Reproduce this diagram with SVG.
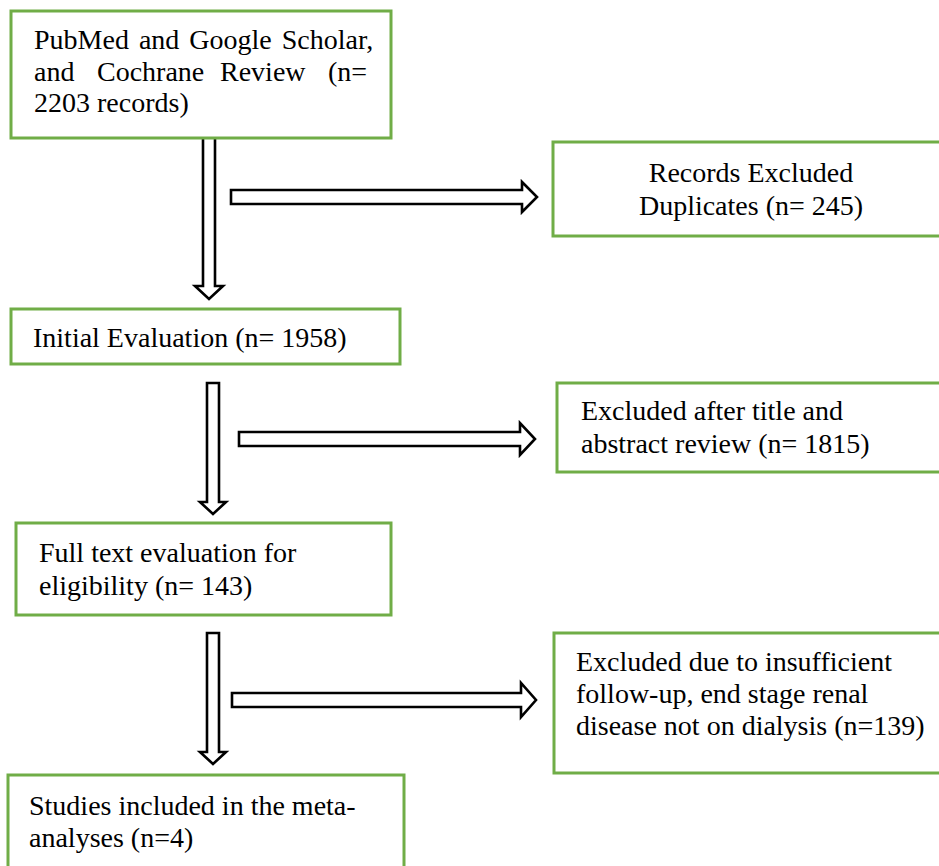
<svg xmlns="http://www.w3.org/2000/svg" width="939" height="866" viewBox="0 0 939 866">
<style>
.box{fill:#fff;stroke:#70AD47;stroke-width:3}
.t{font-family:"Liberation Serif","Times New Roman",serif;font-size:28px;fill:#000}
.arr{fill:#fff;stroke:#000;stroke-width:2.6;stroke-linejoin:miter}
</style>
<rect width="939" height="866" fill="#fff"/>
<g id="connectors">
<polygon class="arr" points="203,137 215,137 215,286 223,286 209,299 195,286 203,286"/>
<polygon class="arr" points="231,190 522,190 522,182 537,197 522,212 522,204 231,204"/>
<polygon class="arr" points="207,383 219,383 219,502 226,502 213,514 200,502 207,502"/>
<polygon class="arr" points="239,432 520,432 520,423 535,439 520,455 520,446 239,446"/>
<polygon class="arr" points="207,633 219,633 219,752 226,752 213,764 200,752 207,752"/>
<polygon class="arr" points="232,693 521,693 521,683 536,700 521,717 521,707 232,707"/>
</g>
<g id="n1">
<rect class="box" x="11" y="11" width="380" height="127"/>
<text class="t" x="34" y="49" word-spacing="3">PubMed and Google Scholar,</text>
<text class="t" y="81"><tspan x="34">and</tspan><tspan x="97">Cochrane</tspan><tspan x="220">Review</tspan><tspan x="328">(n=</tspan></text>
<text class="t" x="34" y="112">2203 records)</text>
</g>
<g id="n2">
<rect class="box" x="553" y="142" width="400" height="94"/>
<text class="t" x="751" y="182" text-anchor="middle">Records Excluded</text>
<text class="t" x="751" y="215" text-anchor="middle">Duplicates (n= 245)</text>
</g>
<g id="n3">
<rect class="box" x="11" y="309" width="389" height="55"/>
<text class="t" x="33" y="347">Initial Evaluation (n= 1958)</text>
</g>
<g id="n4">
<rect class="box" x="557" y="383" width="400" height="89"/>
<text class="t" x="581" y="420">Excluded after title and</text>
<text class="t" x="581" y="453">abstract review (n= 1815)</text>
</g>
<g id="n5">
<rect class="box" x="16" y="523" width="375" height="92"/>
<text class="t" x="39" y="562">Full text evaluation for</text>
<text class="t" x="39" y="595">eligibility (n= 143)</text>
</g>
<g id="n6">
<rect class="box" x="554" y="633" width="400" height="140"/>
<text class="t" x="576" y="671">Excluded due to insufficient</text>
<text class="t" x="576" y="703">follow-up, end stage renal</text>
<text class="t" x="576" y="735">disease not on dialysis (n=139)</text>
</g>
<g id="n7">
<rect class="box" x="8" y="775" width="396" height="110"/>
<text class="t" x="29" y="815">Studies included in the meta-</text>
<text class="t" x="29" y="847">analyses (n=4)</text>
</g>
</svg>
